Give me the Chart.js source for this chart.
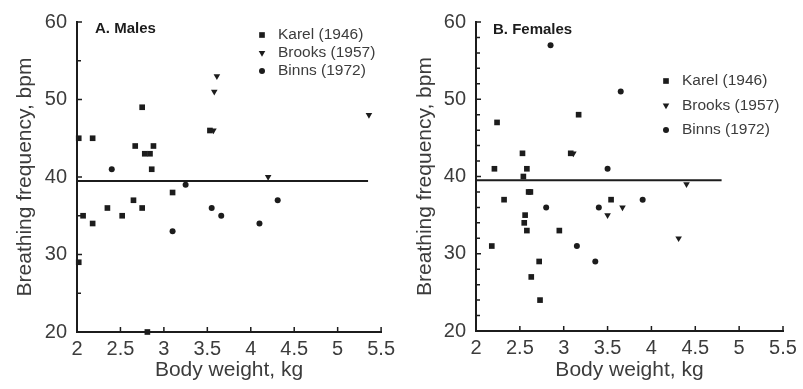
<!DOCTYPE html>
<html>
<head>
<meta charset="utf-8">
<script src="https://cdn.jsdelivr.net/npm/chart.js@4.4.1/dist/chart.umd.min.js"></script>
<style>
body{margin:0;background:#fff;}
#wrap{display:flex;width:803px;height:389px;}
.panel{position:relative;height:389px;}
</style>
</head>
<body>
<div id="wrap">
	<div class="panel" style="width:400px"><canvas id="males"></canvas></div>
	<div class="panel" style="width:403px"><canvas id="females"></canvas></div>
</div>
<script>
// series names + axis ticks
var seriesNames = ['Karel (1946)', 'Brooks (1957)', 'Binns (1972)'];
var xTicks = [2, 2.5, 3, 3.5, 4, 4.5, 5, 5.5];
var yTicks = [20, 30, 40, 50, 60];
var meanRate = 39.5;

// A. Males
var malesKarelX = [2.02, 2.18, 2.75, 2.67, 2.78, 2.84, 2.88, 2.86, 3.10, 3.53, 2.07, 2.18, 2.35, 2.52, 2.65, 2.75, 2.02, 2.81];
var malesKarelY = [45, 45, 49, 44, 43, 43, 44, 41, 38, 46, 35, 34, 36, 35, 37, 36, 29, 20];
var malesBrooksX = [3.57, 3.61, 3.58, 5.36, 4.20];
var malesBrooksY = [46, 53, 51, 48, 40];
var malesBinnsX = [2.40, 3.25, 3.10, 3.55, 3.66, 4.10, 4.31];
var malesBinnsY = [41, 39, 33, 36, 35, 34, 37];
var malesLineEnd = 5.35;

// B. Females
var femalesKarelX = [2.21, 2.24, 2.53, 2.54, 2.58, 3.17, 2.60, 2.62, 2.32, 2.56, 2.55, 2.58, 2.18, 2.72, 2.63, 2.73, 2.95, 3.54, 3.08];
var femalesKarelY = [41, 47, 43, 40, 41, 48, 38, 38, 37, 35, 34, 33, 31, 29, 27, 24, 33, 37, 43];
var femalesBrooksX = [3.11, 3.50, 3.67, 4.31, 4.40];
var femalesBrooksY = [43, 35, 36, 32, 39];
var femalesBinnsX = [2.85, 3.65, 3.50, 2.80, 3.40, 3.90, 3.15, 3.36];
var femalesBinnsY = [57, 51, 41, 36, 36, 37, 31, 29];
var femalesLineEnd = 4.8;

var ink = '#1c1c1c';
var textCol = '#3c3c3c';
var fontFam = '"Liberation Sans", Arial, Helvetica, sans-serif';
var markerStyle = [
	{pointStyle:'rect', radius:4, rotation:0},
	{pointStyle:'triangle', radius:3.8, rotation:180},
	{pointStyle:'circle', radius:3, rotation:0}
];

function pts(xs, ys){
	return xs.map(function(x, i){ return {x:x, y:ys[i]}; });
}

function drawMarker(ctx, kind, x, y){
	var m = markerStyle[kind];
	ctx.beginPath();
	if(kind == 0){
		var s = m.radius * Math.SQRT1_2;
		ctx.rect(x - s, y - s, 2*s, 2*s);
	}else if(kind == 1){
		var r = m.radius;
		ctx.moveTo(x, y + r);
		ctx.lineTo(x - r*0.866, y - r/2);
		ctx.lineTo(x + r*0.866, y - r/2);
		ctx.closePath();
	}else{
		ctx.arc(x, y, m.radius, 0, Math.PI*2);
	}
	ctx.fill();
}

// inner tick marks, panel title and legend
var decor = {
	id:'decor',
	afterDraw:function(chart, args, o){
		var ctx = chart.ctx, xs = chart.scales.x, ys = chart.scales.y, ca = chart.chartArea;
		ctx.save();
		ctx.strokeStyle = ink;
		ctx.lineWidth = 1.5;
		ctx.beginPath();
		xTicks.forEach(function(v){
			var px = xs.getPixelForValue(v);
			ctx.moveTo(px, ca.bottom); ctx.lineTo(px, ca.bottom - 5);
		});
		for(var v = 20; v <= 60; v += o.yMinor){
			var py = ys.getPixelForValue(v);
			var len = (yTicks.indexOf(v) >= 0) ? 5 : 4;
			ctx.moveTo(ca.left, py); ctx.lineTo(ca.left + len, py);
		}
		ctx.stroke();

		ctx.fillStyle = ink;
		ctx.font = 'bold 15px ' + fontFam;
		ctx.textBaseline = 'middle';
		ctx.fillText(o.label, o.labelX, o.labelY);

		ctx.font = '15.5px ' + fontFam;
		seriesNames.forEach(function(name, i){
			var y = o.legY + i*o.legGap;
			ctx.fillStyle = ink;
			drawMarker(ctx, i, o.legX, y);
			ctx.fillStyle = textCol;
			ctx.fillText(name, o.legX + 16, y);
		});
		ctx.restore();
	}
};

function makeChart(id, karel, brooks, binns, lineEnd, pad, yW, xH, deco){
	var sets = [karel, brooks, binns].map(function(d, i){
		return {
			label:seriesNames[i], data:d, showLine:false,
			pointStyle:markerStyle[i].pointStyle, pointRadius:markerStyle[i].radius,
			pointRotation:markerStyle[i].rotation,
			backgroundColor:ink, borderColor:ink, borderWidth:0, clip:false
		};
	});
	sets.push({
		label:'mean', data:[{x:2, y:meanRate}, {x:lineEnd, y:meanRate}],
		showLine:true, pointRadius:0, borderColor:ink, borderWidth:2
	});
	return new Chart(document.getElementById(id), {
		type:'scatter',
		data:{datasets:sets},
		options:{
			responsive:true, maintainAspectRatio:false, animation:false,
			layout:{padding:pad},
			plugins:{legend:{display:false}, tooltip:{enabled:false}, decor:deco},
			scales:{
				x:{
					type:'linear', min:2, max:5.5,
					afterBuildTicks:function(s){ s.ticks = xTicks.map(function(v){ return {value:v}; }); },
					afterFit:function(s){ s.height = xH; },
					grid:{display:false, drawTicks:false},
					border:{display:true, color:ink, width:2},
					ticks:{color:textCol, padding:5, maxRotation:0, autoSkip:false,
						font:{family:fontFam, size:20},
						callback:function(v){ return String(v); }},
					title:{display:true, text:'Body weight, kg', color:textCol,
						font:{family:fontFam, size:21}, padding:{top:0, bottom:6}}
				},
				y:{
					type:'linear', min:20, max:60,
					afterBuildTicks:function(s){ s.ticks = yTicks.map(function(v){ return {value:v}; }); },
					afterFit:function(s){ s.width = yW; },
					grid:{display:false, drawTicks:false},
					border:{display:true, color:ink, width:2},
					ticks:{color:textCol, padding:10, font:{family:fontFam, size:20},
						callback:function(v){ return String(v); }},
					title:{display:true, text:'Breathing frequency, bpm', color:textCol,
						font:{family:fontFam, size:21}, padding:{top:13, bottom:0}}
				}
			}
		},
		plugins:[decor]
	});
}

makeChart('males', pts(malesKarelX, malesKarelY), pts(malesBrooksX, malesBrooksY),
	pts(malesBinnsX, malesBinnsY), malesLineEnd,
	{left:0, top:20, right:13, bottom:0}, 77, 57,
	{label:'A. Males', labelX:95, labelY:29, legX:262, legY:35, legGap:18, yMinor:5});

makeChart('females', pts(femalesKarelX, femalesKarelY), pts(femalesBrooksX, femalesBrooksY),
	pts(femalesBinnsX, femalesBinnsY), femalesLineEnd,
	{left:0, top:22, right:20, bottom:0}, 76, 58,
	{label:'B. Females', labelX:93, labelY:30, legX:266, legY:81, legGap:24.5, yMinor:2});
</script>
</body>
</html>
